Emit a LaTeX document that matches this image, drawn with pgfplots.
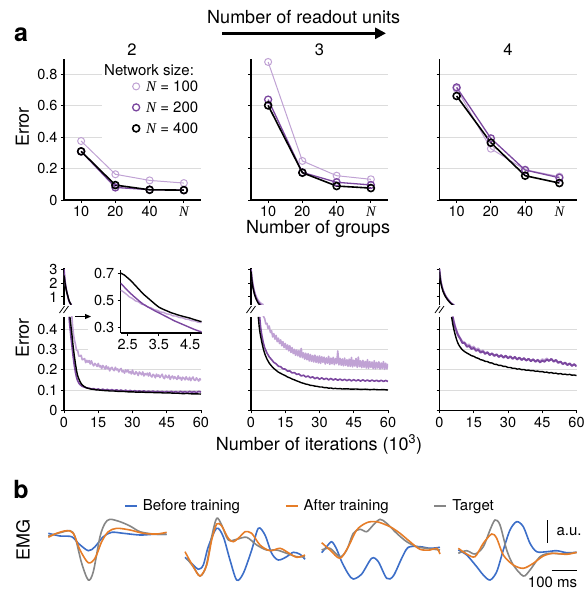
\documentclass[border=0pt]{standalone}
\usepackage{pgfplots}
\pgfplotsset{compat=1.18}
\usepackage{fontspec}
\setmainfont{TeX Gyre Heros}
\newfontfamily\timesfont{Liberation Serif}
\usetikzlibrary{arrows.meta}

\definecolor{cN100}{HTML}{C0A2D4}
\definecolor{cN200}{HTML}{7B479F}
\definecolor{cgrid}{HTML}{DCDCDC}
\definecolor{cblue}{HTML}{3C6EC8}
\definecolor{corange}{HTML}{E67D28}
\definecolor{cgray}{HTML}{868686}

\newcommand\ticksz{\fontsize{14.5}{16}\selectfont}
\newcommand\legsz{\fontsize{15}{18}\selectfont}
\newcommand\titsz{\fontsize{16.5}{19}\selectfont}
\newcommand\labsz{\fontsize{18}{21}\selectfont}
\newcommand\panelsz{\fontsize{25}{28}\selectfont\bfseries}
\newcommand\Nit{{\timesfont\itshape N}}

\pgfplotsset{
  basestyle/.style={scale only axis, axis line style={line width=1.1pt, black},
    tick style={black, line width=0.9pt}, tick align=outside, major tick length=3pt,
    tick label style={font=\ticksz}, /pgf/number format/assume math mode=true,
    grid style={cgrid, line width=1pt}},
  topax/.style={basestyle, width=137pt, height=141.2pt, xmin=-0.5, xmax=3.5, ymin=0, ymax=0.9,
    axis x line*=bottom, axis y line*=left, xtick={0,1,2,3}, xticklabels={10,20,40,\Nit},
    ytick={0,0.2,0.4,0.6,0.8}, ymajorgrids},
  lowax/.style={basestyle, width=137pt, height=93.4pt, xmin=0, xmax=60, ymin=0, ymax=0.46,
    axis x line*=bottom, axis y line*=left, xtick={0,15,30,45,60}, ytick={0,0.1,0.2,0.3,0.4}, ymajorgrids},
  upax/.style={basestyle, width=137pt, height=36.6pt, xmin=0, xmax=60, ymin=0.45, ymax=3.1,
    axis x line=none, axis y line*=left, ytick={1,2,3}},
  t100/.style={cN100, line width=1pt, mark=o, mark size=3.5pt},
  t200/.style={cN200, line width=1.3pt, mark=o, mark size=3.5pt},
  t400/.style={black, line width=1.6pt, mark=o, mark size=3.5pt},
  l100/.style={cN100, line width=1.6pt, line join=round},
  l200/.style={cN200, line width=1.6pt, line join=round},
  l400/.style={black, line width=1.4pt, line join=round},
}

\begin{document}
\begin{tikzpicture}
\useasboundingbox (0,0) rectangle (584pt,-595pt);

% ---------- headings ----------
\node[font=\panelsz] at (21pt,-35pt) {a};
\node[font=\panelsz] at (21pt,-489pt) {b};
\node[font=\labsz, anchor=base] at (303.7pt,-23.3pt) {Number of readout units};
\draw[line width=3.3pt, -{Triangle[length=11pt,width=11pt]}] (222pt,-33.3pt) -- (386pt,-33.3pt);
\node[font=\titsz, anchor=base] at (132pt,-55pt) {2};
\node[font=\titsz, anchor=base] at (319.5pt,-55pt) {3};
\node[font=\titsz, anchor=base] at (508pt,-55pt) {4};
\node[font=\labsz, rotate=90] at (22.5pt,-127pt) {Error};
\node[font=\labsz, rotate=90] at (22.5pt,-338pt) {Error};
\node[font=\labsz, rotate=90] at (23pt,-540pt) {EMG};
\node[font=\labsz, anchor=base] at (318pt,-233.3pt) {Number of groups};
\node[font=\labsz, anchor=base] at (319pt,-450pt) {Number of iterations (10\textsuperscript{3})};

% ---------- top row ----------
\begin{axis}[topax, at={(64pt,-200pt)}, anchor=south west,
  legend style={at={(axis cs:3.47,0.77)}, anchor=north east, draw=none, fill=none, inner sep=0pt,
    font=\legsz, row sep=7pt, nodes={inner sep=1.5pt, text height=11pt, text depth=0pt},
    /tikz/every odd column/.append style={column sep=5pt}},
  legend cell align=left,
  legend image code/.code={\draw[#1] plot[only marks] coordinates {(0pt,0pt)};}]
\fill[white] (axis cs:0.61,0.35) rectangle (axis cs:3.5,0.9);
\addplot[t100, forget plot] coordinates {(0,0.376)(1,0.164)(2,0.125)(3,0.108)};
\addplot[t200, forget plot] coordinates {(0,0.31)(1,0.08)(2,0.066)(3,0.063)};
\addplot[t400, forget plot] coordinates {(0,0.31)(1,0.095)(2,0.065)(3,0.063)};
\addlegendimage{cN100, line width=1pt, mark=o, mark size=3.5pt}
\addlegendentry{\Nit\ = 100}
\addlegendimage{cN200, line width=1.3pt, mark=o, mark size=3.5pt}
\addlegendentry{\Nit\ = 200}
\addlegendimage{black, line width=1.6pt, mark=o, mark size=3.5pt}
\addlegendentry{\Nit\ = 400}
\end{axis}
\node[anchor=base east, font=\legsz] at (197.5pt,-75.3pt) {Network size:};

\begin{axis}[topax, at={(251pt,-200pt)}, anchor=south west, yticklabels={}]
\addplot[t100] coordinates {(0,0.88)(1,0.249)(2,0.155)(3,0.132)};
\addplot[t200] coordinates {(0,0.64)(1,0.176)(2,0.113)(3,0.096)};
\addplot[t400] coordinates {(0,0.603)(1,0.174)(2,0.089)(3,0.076)};
\end{axis}

\begin{axis}[topax, at={(439.5pt,-200pt)}, anchor=south west, yticklabels={}]
\addplot[t100] coordinates {(0,0.71)(1,0.327)(2,0.193)(3,0.149)};
\addplot[t200] coordinates {(0,0.718)(1,0.393)(2,0.191)(3,0.142)};
\addplot[t400] coordinates {(0,0.663)(1,0.365)(2,0.155)(3,0.108)};
\end{axis}

% ---------- bottom row, panel 1 ----------
\begin{axis}[upax, at={(64pt,-304.5pt)}, anchor=south west]
\addplot[l100] coordinates {(0,2.75)(0.25,2.35)(0.5,2.0)(0.75,1.75)(1,1.52)(1.3,1.28)(1.6,1.08)(2,0.83)(2.3,0.7)(2.6,0.6)(3,0.5)(3.4,0.44)};
\addplot[l200] coordinates {(0,3.0)(0.25,2.5)(0.5,2.1)(0.75,1.8)(1,1.55)(1.3,1.3)(1.6,1.1)(2,0.8)(2.3,0.66)(2.6,0.55)(2.9,0.47)(3.2,0.42)};
\addplot[l400] coordinates {(0,2.55)(0.25,2.25)(0.5,1.95)(0.75,1.72)(1,1.5)(1.3,1.28)(1.6,1.1)(2,0.85)(2.3,0.7)(2.6,0.58)(2.9,0.5)(3.2,0.44)};
\end{axis}
\begin{axis}[lowax, at={(64pt,-410.3pt)}, anchor=south west]
\fill[white] (axis cs:10.5,0.285) rectangle (axis cs:60,0.46);
\addplot[l100] coordinates {(3.4,0.47)(3.8,0.41)(4.2,0.37)(4.6,0.345)(5,0.326)(5.5,0.296)(6,0.294)(6.5,0.267)(7,0.267)(7.5,0.271)(8,0.249)(8.5,0.251)(9,0.255)(9.5,0.235)(10,0.246)(10.5,0.237)(11,0.245)(11.5,0.228)(12,0.244)(12.5,0.228)(13,0.219)(13.5,0.231)(14,0.225)(14.5,0.216)(15,0.231)(15.5,0.214)(16,0.220)(16.5,0.205)(17,0.221)(17.5,0.213)(18,0.203)(18.5,0.219)(19,0.205)(19.5,0.213)(20,0.194)(20.5,0.207)(21,0.212)(21.5,0.200)(22,0.195)(22.5,0.212)(23,0.199)(23.5,0.204)(24,0.189)(24.5,0.201)(25,0.206)(25.5,0.189)(26,0.195)(26.5,0.183)(27,0.199)(27.5,0.189)(28,0.199)(28.5,0.184)(29,0.191)(29.5,0.179)(30,0.198)(30.5,0.181)(31,0.177)(31.5,0.190)(32,0.183)(32.5,0.171)(33,0.189)(33.5,0.182)(34,0.175)(34.5,0.189)(35,0.169)(35.5,0.181)(36,0.175)(36.5,0.183)(37,0.169)(37.5,0.185)(38,0.170)(38.5,0.164)(39,0.177)(39.5,0.172)(40,0.160)(40.5,0.178)(41,0.167)(41.5,0.174)(42,0.161)(42.5,0.170)(43,0.178)(43.5,0.161)(44,0.156)(44.5,0.173)(45,0.164)(45.5,0.160)(46,0.173)(46.5,0.152)(47,0.164)(47.5,0.169)(48,0.155)(48.5,0.166)(49,0.159)(49.5,0.152)(50,0.170)(50.5,0.156)(51,0.162)(51.5,0.148)(52,0.163)(52.5,0.158)(53,0.150)(53.5,0.165)(54,0.154)(54.5,0.150)(55,0.163)(55.5,0.146)(56,0.157)(56.5,0.164)(57,0.149)(57.5,0.147)(58,0.160)(58.5,0.152)(59,0.144)(59.5,0.156)(60,0.148)};
\addplot[l200] coordinates {(2.2,0.46)(2.6,0.41)(3,0.365)(3.5,0.315)(4,0.265)(4.5,0.222)(5,0.188)(5.5,0.162)(6,0.145)(6.5,0.134)(7,0.127)(8,0.118)(9,0.114)(10,0.11)(11,0.109)(12,0.105)(13,0.107)(14,0.102)(15,0.105)(16,0.1)(17,0.104)(18,0.099)(19,0.103)(20,0.098)(21,0.102)(22,0.097)(23,0.101)(24,0.096)(25,0.1)(26,0.095)(27,0.099)(28,0.094)(29,0.098)(30,0.093)(31,0.097)(32,0.093)(33,0.096)(34,0.092)(35,0.096)(36,0.091)(37,0.095)(38,0.091)(39,0.095)(40,0.09)(41,0.094)(42,0.09)(43,0.093)(44,0.089)(45,0.093)(46,0.089)(47,0.093)(48,0.089)(49,0.092)(50,0.088)(51,0.093)(52,0.089)(53,0.092)(54,0.088)(55,0.093)(56,0.089)(57,0.092)(58,0.088)(59,0.093)(60,0.09)};
\addplot[l400] coordinates {(2.6,0.46)(3,0.42)(3.5,0.37)(4,0.315)(4.5,0.27)(5,0.23)(5.5,0.195)(6,0.17)(6.5,0.155)(7,0.142)(7.5,0.132)(8,0.125)(9,0.116)(10,0.11)(11,0.107)(12,0.104)(13,0.103)(14,0.101)(15,0.1)(16,0.099)(17,0.098)(18,0.097)(19,0.097)(20,0.095)(22,0.095)(24,0.093)(26,0.093)(28,0.091)(30,0.091)(32,0.089)(34,0.09)(36,0.088)(38,0.088)(40,0.087)(42,0.087)(44,0.085)(46,0.086)(48,0.084)(50,0.084)(52,0.082)(54,0.083)(56,0.081)(58,0.081)(60,0.08)};
\end{axis}
% inset
\begin{axis}[basestyle, width=81pt, height=63.3pt, at={(120.7pt,-333pt)}, anchor=south west,
  xmin=2.28, xmax=4.87, ymin=0.26, ymax=0.73, axis x line*=bottom, axis y line*=left,
  xtick={2.5,3.5,4.5}, ytick={0.3,0.5,0.7}]
\addplot[l100, line width=1.4pt] coordinates {(2.28,0.578)(2.35,0.568)(2.45,0.551)(2.55,0.529)(2.65,0.517)(2.75,0.499)(2.85,0.491)(2.95,0.474)(3.05,0.469)(3.15,0.452)(3.25,0.447)(3.35,0.433)(3.45,0.428)(3.55,0.416)(3.65,0.413)(3.75,0.402)(3.85,0.399)(3.95,0.387)(4.05,0.386)(4.15,0.375)(4.25,0.374)(4.35,0.363)(4.45,0.361)(4.55,0.351)(4.65,0.350)(4.75,0.340)(4.87,0.338)};
\addplot[l200, line width=1.4pt] coordinates {(2.28,0.63)(2.4,0.60)(2.5,0.575)(2.6,0.553)(2.7,0.532)(2.8,0.512)(2.9,0.492)(3.0,0.474)(3.1,0.46)(3.2,0.447)(3.3,0.434)(3.4,0.421)(3.5,0.41)(3.6,0.398)(3.7,0.386)(3.8,0.374)(3.9,0.362)(4.0,0.35)(4.1,0.34)(4.2,0.33)(4.3,0.32)(4.4,0.31)(4.5,0.30)(4.6,0.29)(4.7,0.281)(4.8,0.273)(4.87,0.268)};
\addplot[l400, line width=1.4pt] coordinates {(2.28,0.705)(2.4,0.69)(2.5,0.67)(2.6,0.65)(2.7,0.625)(2.8,0.6)(2.9,0.575)(3.0,0.55)(3.1,0.53)(3.2,0.51)(3.3,0.49)(3.4,0.47)(3.5,0.452)(3.6,0.44)(3.7,0.43)(3.8,0.42)(3.9,0.41)(4.0,0.403)(4.1,0.395)(4.2,0.388)(4.3,0.382)(4.4,0.376)(4.5,0.37)(4.6,0.362)(4.7,0.355)(4.8,0.348)(4.87,0.345)};
\end{axis}
\draw[line width=1pt, -{Triangle[length=6pt,width=5pt]}] (75pt,-316.5pt) -- (91pt,-316.5pt);

% ---------- bottom row, panel 2 ----------
\begin{axis}[upax, at={(251pt,-304.5pt)}, anchor=south west, yticklabels={}]
\addplot[l100] coordinates {(0,3.0)(0.3,2.55)(0.6,2.2)(1,1.8)(1.5,1.42)(2,1.15)(2.5,0.95)(3,0.8)(3.5,0.68)(4,0.59)(4.5,0.52)(5,0.47)(5.5,0.43)};
\addplot[l200] coordinates {(0,3.0)(0.3,2.45)(0.6,2.05)(1,1.65)(1.5,1.3)(2,1.03)(2.5,0.83)(3,0.67)(3.5,0.56)(4,0.48)(4.5,0.42)};
\addplot[l400] coordinates {(0,2.85)(0.3,2.3)(0.6,1.9)(1,1.55)(1.5,1.2)(2,0.95)(2.5,0.75)(3,0.59)(3.5,0.47)(4,0.4)};
\end{axis}
\begin{axis}[lowax, at={(251pt,-410.3pt)}, anchor=south west, yticklabels={}]
\addplot[l100] coordinates {(4.8,0.48)(5.2,0.47)(5.5,0.462)(6,0.451)(6.5,0.425)(7,0.428)(7.5,0.402)(8,0.415)(8.5,0.383)(9,0.392)(9.5,0.361)(10,0.378)(10.5,0.350)(11,0.369)(11.5,0.338)(12,0.355)(12.5,0.329)(13,0.347)(13.5,0.318)(14,0.338)(14.5,0.309)(15,0.329)(15.5,0.300)(16,0.322)(16.5,0.293)(17,0.318)(17.5,0.285)(18,0.309)(18.5,0.279)(19,0.300)(19.5,0.271)(20,0.297)(20.5,0.268)(21,0.294)(21.5,0.262)(22,0.305)(22.5,0.259)(23,0.283)(23.5,0.252)(24,0.281)(24.5,0.249)(25,0.279)(25.5,0.243)(26,0.275)(26.5,0.241)(27,0.270)(27.5,0.238)(28,0.272)(28.5,0.236)(29,0.266)(29.5,0.233)(30,0.268)(30.5,0.231)(31,0.264)(31.5,0.236)(32,0.262)(32.5,0.228)(33,0.258)(33.5,0.232)(34,0.266)(34.5,0.226)(35,0.257)(35.5,0.229)(36,0.261)(36.5,0.225)(37,0.255)(37.5,0.230)(38,0.292)(38.5,0.224)(39,0.256)(39.5,0.222)(40,0.253)(40.5,0.219)(41,0.257)(41.5,0.221)(42,0.249)(42.5,0.217)(43,0.252)(43.5,0.216)(44,0.260)(44.5,0.214)(45,0.247)(45.5,0.218)(46,0.255)(46.5,0.212)(47,0.262)(47.5,0.215)(48,0.244)(48.5,0.210)(49,0.246)(49.5,0.212)(50,0.241)(50.5,0.208)(51,0.249)(51.5,0.207)(52,0.240)(52.5,0.211)(53,0.238)(53.5,0.205)(54,0.244)(54.5,0.204)(55,0.236)(55.5,0.208)(56,0.239)(56.5,0.203)(57,0.233)(57.5,0.206)(58,0.240)(58.5,0.202)(59,0.232)(59.5,0.204)(60,0.229)};
\addplot[l200] coordinates {(3.8,0.46)(4.2,0.41)(4.7,0.372)(5.4,0.332)(6,0.308)(7,0.282)(8,0.263)(9,0.25)(10,0.236)(11,0.229)(12,0.217)(13,0.215)(14,0.204)(15,0.203)(16,0.193)(17,0.194)(18,0.184)(19,0.186)(20,0.177)(21,0.179)(22,0.169)(23,0.173)(24,0.164)(25,0.169)(26,0.16)(27,0.165)(28,0.156)(29,0.162)(30,0.153)(31,0.16)(32,0.152)(33,0.158)(34,0.15)(35,0.157)(36,0.149)(37,0.155)(38,0.148)(39,0.154)(40,0.147)(41,0.153)(42,0.146)(43,0.152)(44,0.145)(45,0.151)(46,0.145)(47,0.15)(48,0.144)(49,0.15)(50,0.144)(51,0.149)(52,0.143)(53,0.149)(54,0.143)(55,0.148)(56,0.142)(57,0.148)(58,0.142)(59,0.147)(60,0.142)};
\addplot[l400] coordinates {(3.2,0.46)(3.6,0.41)(4,0.378)(4.7,0.337)(5.4,0.302)(6.1,0.276)(7,0.252)(8,0.232)(9,0.218)(10,0.206)(11,0.197)(12,0.188)(13,0.182)(14,0.176)(15,0.171)(16,0.164)(17,0.16)(18,0.154)(19,0.15)(20,0.145)(21,0.141)(22,0.136)(23,0.133)(24,0.129)(25,0.127)(26,0.123)(27,0.122)(28,0.119)(29,0.118)(30,0.115)(31,0.115)(32,0.112)(33,0.112)(34,0.109)(35,0.11)(36,0.107)(37,0.108)(38,0.106)(39,0.107)(40,0.105)(42,0.106)(44,0.104)(46,0.105)(48,0.103)(50,0.104)(52,0.102)(54,0.103)(56,0.101)(58,0.102)(60,0.1)};
\end{axis}

% ---------- bottom row, panel 3 ----------
\begin{axis}[upax, at={(439.5pt,-304.5pt)}, anchor=south west, yticklabels={}]
\addplot[l100] coordinates {(0,3.05)(0.3,2.55)(0.6,2.15)(1,1.85)(1.5,1.55)(2,1.33)(2.5,1.15)(3,1.0)(3.5,0.88)(4,0.77)(4.5,0.67)(5,0.58)(5.5,0.5)(6,0.45)(6.5,0.42)};
\addplot[l200] coordinates {(0,3.0)(0.3,2.5)(0.6,2.1)(1,1.8)(1.5,1.5)(2,1.3)(2.5,1.12)(3,0.98)(3.5,0.86)(4,0.76)(4.5,0.66)(5,0.57)(5.5,0.5)(6,0.45)(6.5,0.42)};
\addplot[l400] coordinates {(0,2.8)(0.3,2.3)(0.6,2.0)(1,1.7)(1.5,1.42)(2,1.22)(2.5,1.05)(3,0.92)(3.5,0.8)(4,0.7)(4.5,0.6)(5,0.52)(5.5,0.46)(6,0.42)};
\end{axis}
\begin{axis}[lowax, at={(439.5pt,-410.3pt)}, anchor=south west, yticklabels={}]
\addplot[l100] coordinates {(5.8,0.465)(6.3,0.44)(6.8,0.42)(7.3,0.40)(7.8,0.385)(8.3,0.372)(9,0.358)(10,0.34)(11,0.335)(12,0.322)(13,0.325)(14,0.31)(15,0.315)(16,0.30)(17,0.306)(18,0.29)(19,0.296)(20,0.282)(21,0.288)(22,0.275)(23,0.281)(24,0.268)(25,0.274)(26,0.262)(27,0.27)(28,0.258)(29,0.266)(30,0.255)(31,0.263)(32,0.252)(33,0.261)(34,0.249)(35,0.258)(36,0.247)(37,0.255)(38,0.245)(39,0.253)(40,0.242)(41,0.252)(42,0.24)(43,0.25)(44,0.242)(45,0.252)(46,0.248)(47,0.256)(48,0.246)(49,0.252)(50,0.238)(51,0.244)(52,0.232)(53,0.238)(54,0.226)(55,0.233)(56,0.222)(57,0.229)(58,0.218)(59,0.226)(60,0.216)};
\addplot[l200, line width=1.9pt] coordinates {(5.8,0.46)(6.3,0.43)(6.8,0.41)(7.3,0.395)(7.8,0.378)(8.3,0.366)(9,0.354)(10,0.332)(11,0.331)(12,0.313)(13,0.317)(14,0.302)(15,0.307)(16,0.293)(17,0.298)(18,0.284)(19,0.290)(20,0.278)(21,0.285)(22,0.272)(23,0.280)(24,0.268)(25,0.276)(26,0.263)(27,0.272)(28,0.260)(29,0.269)(30,0.257)(31,0.266)(32,0.254)(33,0.263)(34,0.251)(35,0.260)(36,0.248)(37,0.257)(38,0.245)(39,0.254)(40,0.242)(41,0.251)(42,0.239)(43,0.248)(44,0.236)(45,0.245)(46,0.239)(47,0.250)(48,0.243)(49,0.253)(50,0.241)(51,0.248)(52,0.235)(53,0.240)(54,0.228)(55,0.235)(56,0.223)(57,0.231)(58,0.219)(59,0.227)(60,0.217)};
\addplot[l400] coordinates {(5.3,0.46)(5.8,0.425)(6.3,0.398)(6.8,0.375)(7.3,0.355)(7.8,0.338)(8.3,0.325)(9,0.312)(10,0.298)(11,0.289)(12,0.282)(13,0.276)(14,0.269)(15,0.266)(16,0.259)(17,0.256)(18,0.249)(19,0.247)(20,0.241)(21,0.240)(22,0.234)(23,0.233)(24,0.227)(25,0.226)(26,0.221)(27,0.221)(28,0.216)(29,0.216)(30,0.211)(31,0.211)(32,0.207)(33,0.207)(34,0.203)(35,0.204)(36,0.200)(37,0.201)(38,0.197)(39,0.198)(40,0.195)(41,0.196)(42,0.192)(43,0.193)(44,0.190)(45,0.191)(46,0.187)(47,0.188)(48,0.184)(49,0.186)(50,0.182)(51,0.183)(52,0.179)(53,0.181)(54,0.177)(55,0.178)(56,0.175)(57,0.177)(58,0.173)(59,0.174)(60,0.171)};
\end{axis}

% break marks
\foreach \xx in {64,251,439.5}{
  \draw[line width=0.8pt] ({\xx-4.5pt},-313pt) -- ({\xx+0.5pt},-306pt);
  \draw[line width=0.8pt] ({\xx-0.5pt},-313pt) -- ({\xx+4.5pt},-306pt);
}

% ---------- panel b: EMG ----------
\begin{axis}[scale only axis, width=584pt, height=100pt, at={(0pt,-595pt)}, anchor=south west,
  xmin=0, xmax=584, ymin=-595, ymax=-495, hide axis, clip=false,
  legend columns=3,
  legend style={at={(axis cs:124,-506)}, anchor=west, draw=none, fill=none, inner sep=0pt,
    font=\legsz, nodes={inner sep=1pt},
    /tikz/every odd column/.append style={column sep=4pt},
    /tikz/every even column/.append style={column sep=44pt}},
  legend image code/.code={\draw[#1] (0pt,0pt) -- (12pt,0pt);}]
% trace 1
\addplot[cblue, line width=1.6pt, smooth, forget plot] coordinates {(48.3,-533.3)(60,-536)(71.7,-536.7)(78.3,-543.3)(88.3,-550.7)(95,-546.7)(103.3,-536.7)(111.7,-532.3)(123.3,-533.3)(140,-535)(153.3,-534.3)(166.7,-534.3)};
\addplot[cgray, line width=1.6pt, smooth, forget plot] coordinates {(48.3,-536)(60,-532.7)(70,-530.7)(75,-536.7)(81.7,-563.3)(88.3,-580)(93.3,-571.7)(100,-536.7)(105,-523.3)(110,-519.3)(120,-521.7)(130,-526)(140,-531.7)(153.3,-534)(166.7,-534.3)};
\addplot[corange, line width=1.6pt, smooth, forget plot] coordinates {(48.3,-537.3)(56.7,-533.3)(66.7,-530.7)(73.3,-533.3)(80,-550)(88.3,-562.7)(95,-558.3)(101.7,-541.7)(108.3,-531.7)(116.7,-528.3)(130,-530)(143.3,-533.3)(156.7,-534)(166.7,-532.3)};
% trace 2
\addplot[cblue, line width=1.6pt, smooth, forget plot] coordinates {(185,-557.3)(193.3,-565)(198.3,-569.3)(203.3,-565)(208.3,-546.7)(216.7,-528.3)(223.3,-536.7)(230,-560)(236.7,-580)(243.3,-573.3)(251.7,-550)(258.3,-528.3)(265,-535)(271.7,-553.3)(278.3,-560)(286.7,-556.7)(293.3,-552.3)(300,-554.3)(305,-559.3)};
\addplot[cgray, line width=1.6pt, smooth, forget plot] coordinates {(186.7,-558.3)(193.3,-566.7)(200,-576)(206,-566.7)(211.7,-536.7)(216.7,-518.3)(221.7,-525)(228.3,-540)(236.7,-539.3)(246.7,-537.3)(256.7,-545)(266.7,-550)(276.7,-550)(286.7,-553.3)(296.7,-556.7)(305,-556.7)};
\addplot[corange, line width=1.6pt, smooth, forget plot] coordinates {(185,-551.7)(193.3,-566.7)(200,-576)(206.7,-565)(211.7,-540)(216.7,-524)(221.7,-526)(228.3,-538.3)(233.3,-541.7)(240,-536.7)(245,-531.7)(251.7,-533.3)(260,-545)(270,-550.7)(280,-548.3)(288.3,-552.7)(296.7,-557.3)(305,-555)};
% trace 3
\addplot[cblue, line width=1.6pt, smooth, forget plot] coordinates {(321.7,-552.7)(326.7,-546.7)(331.7,-541.7)(336.7,-549.3)(341.7,-561.7)(348.3,-574)(353.3,-579)(361.7,-574)(371.7,-558.3)(378.3,-561.7)(386.7,-578.3)(393.3,-576)(401.7,-558.3)(408.3,-547.3)(420,-546.7)(430,-548.3)(440,-547.3)};
\addplot[cgray, line width=1.6pt, smooth, forget plot] coordinates {(321.7,-550)(330,-548.3)(340,-556.7)(346.7,-550)(353.3,-533.3)(360,-529.3)(366.7,-531.7)(373.3,-525)(380,-519.3)(386.7,-523.3)(396.7,-533.3)(406.7,-541.7)(416.7,-546.7)(426.7,-548.3)(440,-550)};
\addplot[corange, line width=1.6pt, smooth, forget plot] coordinates {(321.7,-542.7)(330,-550)(340,-558.3)(348.3,-546.7)(356.7,-530)(366.7,-522.7)(376.7,-521.7)(390,-526.7)(400,-533.3)(410,-541.7)(420,-549.3)(430,-550)(436.7,-548.3)(440,-554)};
% trace 4
\addplot[cblue, line width=1.6pt, smooth, forget plot] coordinates {(458.3,-550)(466.7,-555)(476.7,-566.7)(483.3,-575)(490,-580)(496.7,-571.7)(503.3,-550)(510,-530)(516.7,-521.7)(523.3,-526.7)(530,-543.3)(536.7,-551.7)(546.7,-551.7)(556.7,-550.7)(566.7,-552.7)(576.7,-552.3)};
\addplot[cgray, line width=1.6pt, smooth, forget plot] coordinates {(458.3,-553.3)(466.7,-550.7)(475,-554)(483.3,-546.7)(490,-530)(495,-520)(500,-525)(506.7,-550)(513.3,-565)(523.3,-576)(530,-570)(540,-556.7)(550,-553.3)(563.3,-554)(576.7,-552.3)};
\addplot[corange, line width=1.6pt, smooth, forget plot] coordinates {(458.3,-548.3)(466.7,-554)(475,-556.7)(483.3,-543.3)(491.7,-534)(496.7,-538.3)(503.3,-555)(513.3,-565)(523.3,-568.3)(533.3,-563.3)(543.3,-556)(553.3,-553.3)(566.7,-554.3)(576.7,-552.3)};
% scale bars
\addplot[black, line width=1.5pt, forget plot] coordinates {(547.3,-520)(547.3,-542.7)};
\addplot[black, line width=1.5pt, forget plot] coordinates {(551.7,-570.7)(576.7,-570.7)};
\node[font=\legsz, anchor=west] at (axis cs:553,-531.5) {a.u.};
\node[font=\legsz] at (axis cs:552.5,-582.5) {100 ms};
% legend
\addlegendimage{cblue, line width=1.6pt}
\addlegendentry{Before training}
\addlegendimage{corange, line width=1.6pt}
\addlegendentry{After training}
\addlegendimage{cgray, line width=1.6pt}
\addlegendentry{Target}
\end{axis}
\end{tikzpicture}
\end{document}
